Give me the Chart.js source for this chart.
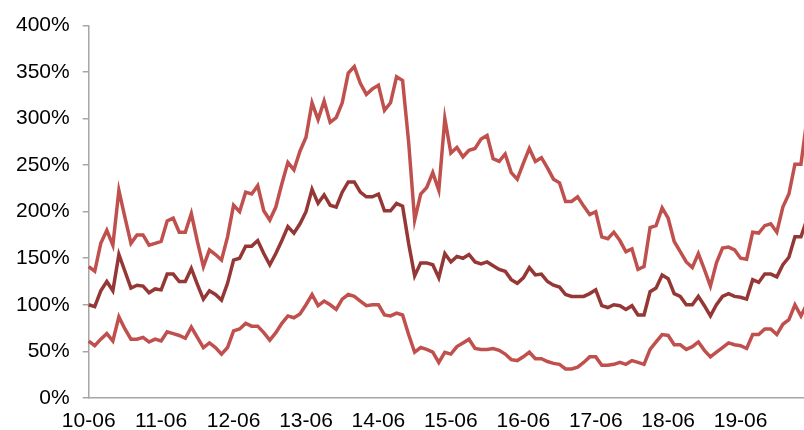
<!DOCTYPE html>
<html>
<head>
<meta charset="utf-8">
<script src="https://cdn.jsdelivr.net/npm/chart.js@4/dist/chart.umd.min.js"></script>
<style>
  html, body { margin: 0; padding: 0; background: #fff; overflow: hidden; }
  #wrap { width: 810px; height: 445px; position: relative; }
</style>
</head>
<body>
<div id="wrap"><canvas id="chart"></canvas></div>
<script>
// monthly labels "YY-MM", from 10-06 to 20-05
const months = [];
for (let y = 10; y <= 20; y++) {
  for (let m = 1; m <= 12; m++) {
    if ((y === 10 && m < 6) || (y === 20 && m > 5)) continue;
    months.push(String(y).padStart(2, "0") + "-" + String(m).padStart(2, "0"));
  }
}

const yTicks = [0, 50, 100, 150, 200, 250, 300, 350, 400];

// upper band (%)
const upper = [
  141, 136, 166, 180, 164, 223, 194, 166, 175, 175, 164, 166, 168, 190, 193, 178, 178, 198, 168, 141,
  159, 154, 148, 173, 207, 200, 221, 219, 228, 201, 191, 205, 230, 253, 245, 265, 280, 317, 299, 319,
  296, 301, 317, 349, 356, 338, 326, 332, 336, 309, 317, 345, 341, 275, 191, 219, 226, 242, 223, 300,
  263, 269, 259, 266, 268, 278, 282, 257, 254, 262, 242, 235, 252, 268, 254, 258, 247, 235, 231, 211,
  211, 216, 206, 197, 200, 173, 171, 178, 169, 157, 160, 138, 141, 183, 185, 204, 193, 168, 157, 146,
  140, 155, 138, 120, 145, 161, 162, 159, 150, 149, 178, 177, 185, 187, 178, 205, 219, 251, 251, 300
];

// middle line (%)
const middle = [
  100, 98, 115, 125, 115, 154, 136, 118, 121, 120, 113, 117, 116, 133, 133, 125, 125, 139, 122, 106,
  115, 111, 105, 123, 148, 150, 163, 163, 169, 155, 143, 155, 169, 184, 177, 187, 200, 224, 209, 218,
  207, 205, 221, 232, 232, 221, 216, 216, 219, 201, 201, 209, 206, 166, 131, 145, 145, 143, 129, 155,
  146, 152, 150, 154, 146, 144, 146, 142, 138, 136, 127, 123, 129, 140, 132, 133, 125, 121, 119, 111,
  109, 109, 109, 112, 116, 99, 97, 100, 99, 95, 99, 89, 89, 114, 118, 132, 128, 112, 109, 100,
  100, 109, 99, 88, 100, 109, 112, 109, 108, 106, 127, 124, 133, 133, 130, 143, 151, 173, 173, 192
];

// lower band (%)
const lower = [
  61, 56, 63, 69, 61, 87, 74, 63, 63, 65, 60, 63, 61, 71, 69, 67, 64, 76, 65, 54,
  59, 54, 47, 54, 72, 74, 80, 77, 77, 70, 62, 70, 80, 88, 86, 90, 100, 111, 99, 104,
  100, 95, 106, 111, 109, 104, 99, 100, 100, 89, 88, 91, 89, 68, 49, 54, 52, 49, 38, 49,
  47, 55, 59, 63, 53, 52, 52, 53, 51, 47, 41, 40, 44, 49, 42, 42, 39, 37, 36, 31,
  31, 33, 38, 44, 44, 35, 35, 36, 38, 36, 40, 38, 36, 52, 60, 68, 67, 57, 57, 52,
  55, 60, 51, 44, 49, 54, 59, 57, 56, 53, 68, 68, 74, 74, 68, 79, 84, 100, 88, 101
];

const red = "#C0504D";
const darkRed = "#953735";
const axisGrey = "#A6A6A6";
const labelFont = { family: "'Liberation Sans', Arial, sans-serif", size: 21 };

function line(data, color) {
  return {
    data,
    borderColor: color,
    backgroundColor: color,
    borderWidth: 3.5,
    pointRadius: 0,
    tension: 0,
    fill: false,
  };
}

new Chart(document.getElementById("chart"), {
  type: "line",
  data: {
    labels: months,
    datasets: [line(upper, red), line(middle, darkRed), line(lower, red)],
  },
  options: {
    responsive: true,
    maintainAspectRatio: false,
    animation: false,
    layout: { padding: { left: 3, right: 3, top: 5, bottom: 0 } },
    plugins: { legend: { display: false }, tooltip: { enabled: false } },
    scales: {
      x: {
        offset: false,
        grid: { display: true, drawOnChartArea: false, drawTicks: false },
        border: { color: axisGrey, width: 1.5 },
        ticks: {
          autoSkip: false,
          maxRotation: 0,
          padding: 11,
          color: "#000",
          font: labelFont,
          callback: (v, i) => (months[i].endsWith("-06") ? months[i] : null),
        },
      },
      y: {
        min: 0,
        max: 400,
        afterBuildTicks: (axis) => { axis.ticks = yTicks.map((v) => ({ value: v })); },
        grid: { display: true, drawOnChartArea: false, tickLength: 6, color: axisGrey, lineWidth: 1.5 },
        border: { color: axisGrey, width: 1.5 },
        ticks: {
          padding: 13,
          color: "#000",
          font: labelFont,
          callback: (v) => v + "%",
        },
      },
    },
  },
});
</script>
</body>
</html>
